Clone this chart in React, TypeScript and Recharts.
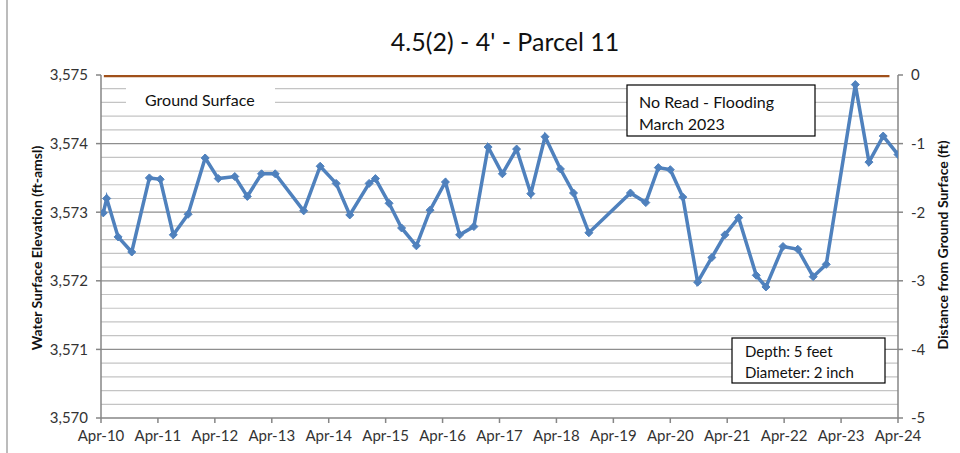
import React from 'react';
import { LineChart, Line, XAxis, YAxis, CartesianGrid } from 'recharts';

// x = year offset (10 => Apr-2010), y = water surface elevation (ft-amsl)
const dates = [10.04, 10.10, 10.30, 10.54, 10.85, 11.04, 11.27, 11.53, 11.83, 12.06, 12.35, 12.57, 12.82, 13.06, 13.56, 13.85, 14.13, 14.37, 14.71, 14.82, 15.06, 15.28, 15.54, 15.78, 16.05, 16.30, 16.55, 16.80, 17.05, 17.30, 17.55, 17.80, 18.07, 18.30, 18.57, 19.30, 19.57, 19.79, 20.00, 20.22, 20.48, 20.73, 20.96, 21.20, 21.51, 21.68, 21.98, 22.24, 22.51, 22.74, 23.25, 23.49, 23.74, 24.00];
const elevations = [3572.99, 3573.20, 3572.64, 3572.42, 3573.50, 3573.48, 3572.67, 3572.97, 3573.79, 3573.49, 3573.52, 3573.23, 3573.56, 3573.56, 3573.02, 3573.67, 3573.42, 3572.96, 3573.42, 3573.49, 3573.13, 3572.77, 3572.51, 3573.03, 3573.44, 3572.67, 3572.79, 3573.95, 3573.56, 3573.92, 3573.27, 3574.10, 3573.63, 3573.28, 3572.70, 3573.28, 3573.14, 3573.65, 3573.62, 3573.22, 3571.98, 3572.34, 3572.67, 3572.92, 3572.08, 3571.91, 3572.50, 3572.46, 3572.06, 3572.24, 3574.86, 3573.73, 3574.11, 3573.84];
const groundDates = [10.05, 23.85];
const groundElevation = 3575;

const xTicks = [10, 11, 12, 13, 14, 15, 16, 17, 18, 19, 20, 21, 22, 23, 24];
const xTickLabels = ['Apr-10', 'Apr-11', 'Apr-12', 'Apr-13', 'Apr-14', 'Apr-15', 'Apr-16', 'Apr-17', 'Apr-18', 'Apr-19', 'Apr-20', 'Apr-21', 'Apr-22', 'Apr-23', 'Apr-24'];
const leftTicks = [3570, 3571, 3572, 3573, 3574, 3575];
const leftTickLabels = ['3,570', '3,571', '3,572', '3,573', '3,574', '3,575'];
const rightTicks = [-5, -4, -3, -2, -1, 0];
const minorGrid = [3570.2, 3570.4, 3570.6, 3570.8, 3571.2, 3571.4, 3571.6, 3571.8, 3572.2, 3572.4, 3572.6, 3572.8, 3573.2, 3573.4, 3573.6, 3573.8, 3574.2, 3574.4, 3574.6, 3574.8];
const majorGrid = [3571, 3572, 3573, 3574];

const title = "4.5(2) - 4' - Parcel 11";

const waterData = dates.map((d, i) => ({ x: d, y: elevations[i] }));
const groundData = groundDates.map((d) => ({ x: d, g: groundElevation }));

const FONT = 'Lato, "Open Sans", sans-serif';

const Diamond = (props: any) => {
  const { cx, cy } = props;
  if (cx == null || cy == null) return null;
  const s = 4;
  return (
    <polygon
      points={`${cx},${cy - s} ${cx + s},${cy} ${cx},${cy + s} ${cx - s},${cy}`}
      fill="#4F81BD"
      stroke="#4F81BD"
    />
  );
};

export default function App() {
  return (
    <div style={{ position: 'absolute', left: 0, top: 0, width: 960, height: 453, background: '#fff', fontFamily: FONT }}>
      <LineChart width={960} height={453} margin={{ top: 75, right: 22, bottom: 5, left: 41 }}>
        <CartesianGrid yAxisId="left" vertical={false} horizontalValues={minorGrid} stroke="#c4c4c4" strokeWidth={1.2} />
        <CartesianGrid yAxisId="left" vertical={false} horizontalValues={majorGrid} stroke="#8e8e8e" strokeWidth={1.2} />
        <XAxis
          dataKey="x"
          type="number"
          domain={[10, 24]}
          ticks={xTicks}
          allowDataOverflow
          height={30}
          tickFormatter={(v: number) => xTickLabels[xTicks.indexOf(v)] ?? ''}
          stroke="#868686"
          strokeWidth={1.5}
          tickSize={5}
          tickMargin={7}
          tick={{ fill: '#333', fontSize: 15, fontFamily: FONT }}
          interval={0}
        />
        <YAxis
          yAxisId="left"
          type="number"
          domain={[3570, 3575]}
          ticks={leftTicks}
          allowDataOverflow
          width={60}
          tickFormatter={(v: number) => leftTickLabels[leftTicks.indexOf(v)] ?? ''}
          stroke="#868686"
          strokeWidth={1.5}
          tickSize={5}
          tickMargin={8}
          tick={{ fill: '#333', fontSize: 15, fontFamily: FONT }}
          interval={0}
        />
        <YAxis
          yAxisId="right"
          orientation="right"
          type="number"
          domain={[-5, 0]}
          ticks={rightTicks}
          allowDataOverflow
          width={40}
          stroke="#868686"
          strokeWidth={1.5}
          tickSize={5}
          tickMargin={8}
          tick={{ fill: '#333', fontSize: 15, fontFamily: FONT }}
          interval={0}
        />
        <Line
          yAxisId="left"
          data={groundData}
          dataKey="g"
          stroke="#A0501A"
          strokeWidth={4.5}
          dot={false}
          isAnimationActive={false}
        />
        <Line
          yAxisId="left"
          data={waterData}
          dataKey="y"
          stroke="#4F81BD"
          strokeWidth={3.5}
          dot={<Diamond />}
          activeDot={false}
          isAnimationActive={false}
        />
      </LineChart>
      <svg width={960} height={453} style={{ position: 'absolute', left: 0, top: 0, pointerEvents: 'none' }}>
        <line x1={7} y1={0} x2={7} y2={453} stroke="#a6a6a6" strokeWidth={1.5} />
        <text x={505} y={51} textAnchor="middle" fontSize={25} fill="#111" fontFamily={FONT}>{title}</text>
        <text
          transform="translate(42,248) rotate(-90)"
          textAnchor="middle"
          fontSize={14}
          fontWeight="bold"
          fill="#111"
          fontFamily={FONT}
        >
          Water Surface Elevation (ft-amsl)
        </text>
        <text
          transform="translate(948,245) rotate(-90)"
          textAnchor="middle"
          fontSize={14}
          fontWeight="bold"
          fill="#111"
          fontFamily={FONT}
        >
          Distance from Ground Surface (ft)
        </text>
        <rect x={126} y={84} width={149} height={30} fill="#fff" />
        <text x={145} y={106} fontSize={16} fill="#111" fontFamily={FONT}>Ground Surface</text>
        <rect x={627} y={85} width={188} height={51} fill="#fff" stroke="#000" strokeWidth={1.2} />
        <text x={639} y={108} fontSize={16} fill="#111" fontFamily={FONT}>No Read - Flooding</text>
        <text x={639} y={130} fontSize={16} fill="#111" fontFamily={FONT}>March 2023</text>
        <rect x={732} y={338} width={153} height={45} fill="#fff" stroke="#000" strokeWidth={1.2} />
        <text x={745} y={357} fontSize={15} fill="#111" fontFamily={FONT}>Depth: 5 feet</text>
        <text x={745} y={378} fontSize={15} fill="#111" fontFamily={FONT}>Diameter: 2 inch</text>
      </svg>
    </div>
  );
}
